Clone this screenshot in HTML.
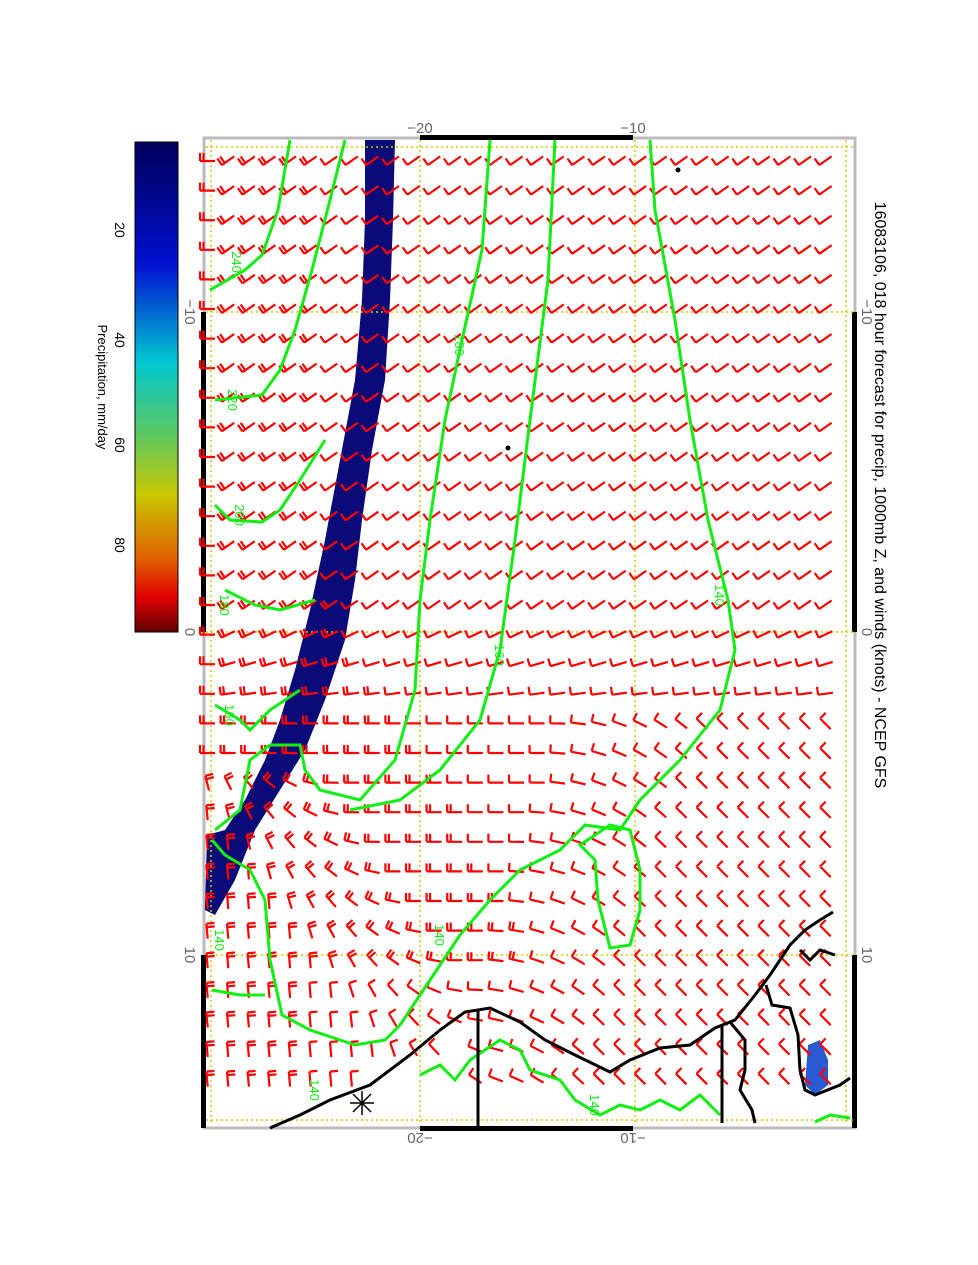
<!DOCTYPE html>
<html><head><meta charset="utf-8">
<style>
html,body{margin:0;padding:0;background:#fff;}
body{width:978px;height:1265px;overflow:hidden;position:relative;font-family:"Liberation Sans",sans-serif;}
svg{position:absolute;left:0;top:0;}
</style></head>
<body>
<svg id="s" width="978" height="1265" viewBox="0 0 978 1265" xmlns="http://www.w3.org/2000/svg">
<defs>
<linearGradient id="cb" x1="0" y1="0" x2="0" y2="1">
<stop offset="0" stop-color="#00005a"/>
<stop offset="0.25" stop-color="#0010d0"/>
<stop offset="0.45" stop-color="#00c8d0"/>
<stop offset="0.6" stop-color="#60c860"/>
<stop offset="0.72" stop-color="#c8c800"/>
<stop offset="0.85" stop-color="#e06000"/>
<stop offset="0.93" stop-color="#e00000"/>
<stop offset="1" stop-color="#600000"/>
</linearGradient>
</defs>
<rect x="135" y="142" width="43" height="490" fill="url(#cb)" stroke="#000" stroke-width="1"/>
<g font-size="14" fill="#000">
<text transform="translate(115,230) rotate(90)" text-anchor="middle">20</text>
<text transform="translate(115,340) rotate(90)" text-anchor="middle">40</text>
<text transform="translate(115,445) rotate(90)" text-anchor="middle">60</text>
<text transform="translate(115,545) rotate(90)" text-anchor="middle">80</text>
<text transform="translate(98,387) rotate(90)" text-anchor="middle" font-size="13">Precipitation, mm/day</text>
</g>
<rect x="204" y="138" width="651" height="990" fill="#fff" stroke="#bbb" stroke-width="3"/>
<g fill="#000">
<rect x="420" y="135" width="213" height="5"/>
<rect x="420" y="1126" width="213" height="5"/>
<rect x="201" y="312" width="5" height="320"/>
<rect x="201" y="955" width="5" height="173"/>
<rect x="852" y="312" width="5" height="320"/>
<rect x="852" y="955" width="5" height="173"/>
</g>
<path d="M365,140 L395,140 L393,220 L390,300 L385,380 L372,450 L362,520 L355,580 L345,640 L325,700 L305,750 L280,790 L255,830 L235,880 L215,915 L205,910 L207,835 L225,830 L245,800 L265,760 L280,720 L295,670 L310,610 L325,540 L340,460 L355,380 L362,300 L365,220 Z" fill="#0a0a78"/>
<path d="M808,1045 L820,1040 L828,1060 L828,1085 L815,1095 L805,1085 Z" fill="#2a5ad0"/>
<g stroke="#d8c800" stroke-width="1.5" stroke-dasharray="2,3" fill="none">
<line x1="211" y1="140" x2="211" y2="1125"/>
<line x1="420" y1="140" x2="420" y2="1125"/>
<line x1="635" y1="140" x2="635" y2="1125"/>
<line x1="846" y1="140" x2="846" y2="1125"/>
<line x1="206" y1="147" x2="853" y2="147"/>
<line x1="206" y1="312" x2="853" y2="312"/>
<line x1="206" y1="632" x2="853" y2="632"/>
<line x1="206" y1="955" x2="853" y2="955"/>
<line x1="206" y1="1120" x2="853" y2="1120"/>
</g>
<g id="barbs" stroke="#ff0000" stroke-width="2.2" fill="none" stroke-linecap="butt"></g>
<g stroke="#11ee11" stroke-width="3" fill="none">
<path d="M290,140 L278,210 L262,255 L245,270 L210,290"/>
<path d="M345,140 L330,200 L312,270 L295,330 L280,370 L262,395 L215,400"/>
<path d="M325,440 L300,480 L280,510 L262,522 L230,520 L215,505"/>
<path d="M315,600 L280,610 L255,605 L225,590"/>
<path d="M300,690 L270,710 L250,730 L240,720 L215,705"/>
<path d="M490,140 L482,250 L462,340 L445,420 L430,520 L420,600 L415,690 L395,760 L360,800 L320,790 L305,770 L300,745 L270,745 L250,760 L240,810 L215,830"/>
<path d="M555,140 L548,280 L530,420 L515,540 L500,650 L480,720 L440,770 L400,800 L350,810"/>
<path d="M650,140 L655,210 L675,320 L690,420 L708,520 L728,600 L735,650 L720,710 L680,760 L640,800 L620,830 L585,825 L560,850 L520,870 L490,900 L460,935 L440,965 L420,995 L400,1025 L385,1040 L355,1045 L310,1030 L282,1015 L270,960 L265,900 L250,870 L225,855 L212,840"/>
<path d="M610,825 L630,830 L640,870 L640,910 L630,945 L610,948 L598,900 L595,860 L580,845 Z"/>
<path d="M212,990 L240,995 L265,995"/>
<path d="M420,1075 L440,1065 L455,1080 L470,1060 L500,1040 L520,1050 L530,1070 L560,1080 L575,1100 L600,1115 L620,1105 L640,1110 L660,1100 L680,1110 L700,1095 L720,1115"/>
<path d="M815,1122 L830,1115 L850,1118"/>
</g>
<g fill="#11ee11" font-size="13">
<text transform="translate(232,262) rotate(90)" text-anchor="middle">240</text>
<text transform="translate(228,400) rotate(90)" text-anchor="middle">220</text>
<text transform="translate(235,515) rotate(90)" text-anchor="middle">200</text>
<text transform="translate(220,605) rotate(90)" text-anchor="middle">180</text>
<text transform="translate(225,715) rotate(90)" text-anchor="middle">160</text>
<text transform="translate(455,345) rotate(90)" text-anchor="middle">180</text>
<text transform="translate(495,655) rotate(90)" text-anchor="middle">160</text>
<text transform="translate(715,595) rotate(90)" text-anchor="middle">140</text>
<text transform="translate(435,935) rotate(90)" text-anchor="middle">140</text>
<text transform="translate(215,940) rotate(90)" text-anchor="middle">140</text>
<text transform="translate(590,1105) rotate(90)" text-anchor="middle">140</text>
<text transform="translate(310,1090) rotate(90)" text-anchor="middle">140</text>
</g>
<g stroke="#000" stroke-width="3" fill="none">
<path d="M270,1128 L300,1115 L330,1100 L370,1085 L410,1055 L440,1030 L465,1012 L490,1008 L520,1022 L545,1040 L575,1055 L610,1072 L630,1060 L660,1048 L690,1045 L715,1028 L735,1020 L755,995 L770,975 L790,945 L805,930 L820,920 L833,912"/>
<path d="M478,1010 L478,1128"/>
<path d="M722,1025 L722,1123"/>
<path d="M730,1022 L745,1040 L745,1070 L740,1090 L752,1110 L755,1123"/>
<path d="M766,985 L772,1005 L790,1008 L798,1035 L800,1070 L805,1090 L815,1095 L840,1085 L850,1078"/>
<path d="M800,950 L810,960 L820,950 L835,955"/>
</g>
<g stroke="#000" stroke-width="1.5"><path d="M350,1103 L374,1103 M362,1091 L362,1115 M353,1094 L371,1112 M371,1094 L353,1112"/></g>
<circle cx="678" cy="170" r="2.5" fill="#000"/><circle cx="508" cy="448" r="2.5" fill="#000"/>
<g font-size="15" fill="#666">
<text x="420" y="133" text-anchor="middle">−20</text>
<text x="633" y="133" text-anchor="middle">−10</text>
<text transform="translate(185,312) rotate(90)" text-anchor="middle">−10</text>
<text transform="translate(185,632) rotate(90)" text-anchor="middle">0</text>
<text transform="translate(185,955) rotate(90)" text-anchor="middle">10</text>
<text transform="translate(862,312) rotate(90)" text-anchor="middle">−10</text>
<text transform="translate(862,632) rotate(90)" text-anchor="middle">0</text>
<text transform="translate(862,955) rotate(90)" text-anchor="middle">10</text>
<text transform="translate(420,1133) rotate(180)" text-anchor="middle">−20</text>
<text transform="translate(633,1133) rotate(180)" text-anchor="middle">−10</text>
</g>
<text transform="translate(875,495) rotate(90)" text-anchor="middle" font-size="16" fill="#000">16083106, 018 hour forecast for precip, 1000mb Z, and winds (knots) - NCEP GFS</text>
</svg>
<script>
(function(){
var g=document.getElementById('barbs'),ns='http://www.w3.org/2000/svg',d='';
function cl(v,a,b){return Math.max(a,Math.min(b,v));}
for(var r=0;r<32;r++){var y=158+r*29.6;if(y>1115)break;
 for(var c=0;c<31;c++){var x=207+c*20.6;if(x>842)break;
  if(y>1005 && x>300 && x<470 && y>1110-(x-270)*0.35) continue;
  var a=(y<600)?-35:Math.min(0,-35+(y-600)*0.3);
  if(a>=0){
    var left=y>760?cl((400-x)*0.6+(y-880)*0.4,0,85):0;
    var right=y>700?cl((x-560)*0.3+(y-700)*0.1,0,45):0;
    a=Math.max(left,right);
  }
  if(x<225&&y<760)a=0;
  var rad=a*Math.PI/180,L=15;
  var vx=x-7*Math.cos(rad),vy=y-7*Math.sin(rad)+3;
  var tx=vx+L*Math.cos(rad),ty=vy+L*Math.sin(rad);
  d+='M'+vx.toFixed(1)+','+vy.toFixed(1)+'L'+tx.toFixed(1)+','+ty.toFixed(1);
  var lim=330+(y>600?Math.min(200,(y-600)*0.6):0);
  if(y>960)lim=300;
  var n=(x<lim)?2:1;
  var br=(a-90)*Math.PI/180;
  for(var k=0;k<n;k++){var bx=vx+k*3.5*Math.cos(rad),by=vy+k*3.5*Math.sin(rad);
   d+='M'+bx.toFixed(1)+','+by.toFixed(1)+'L'+(bx+8*Math.cos(br)).toFixed(1)+','+(by+8*Math.sin(br)).toFixed(1);}
 }}
var p=document.createElementNS(ns,'path');p.setAttribute('d',d);g.appendChild(p);
})();
</script>
</body></html>
